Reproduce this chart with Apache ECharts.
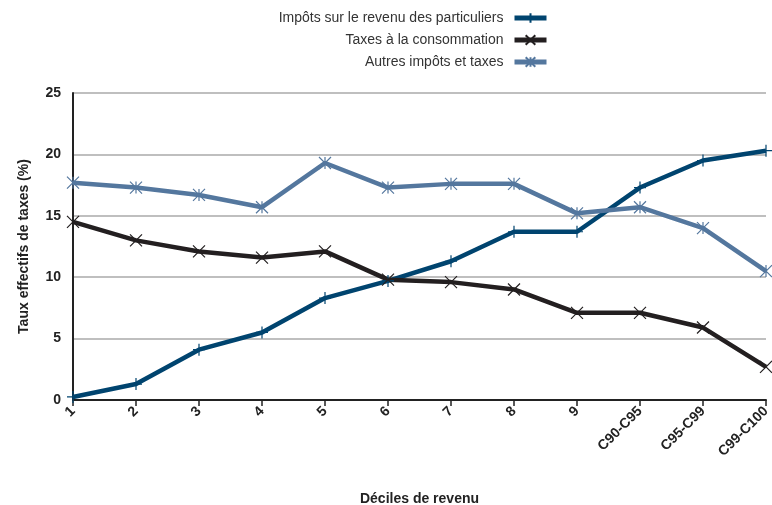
<!DOCTYPE html>
<html>
<head>
<meta charset="utf-8">
<script src="https://cdn.jsdelivr.net/npm/echarts@6/dist/echarts.min.js"></script>
<style>
  html, body { margin: 0; padding: 0; background: #fff; }
  #chart { width: 772px; height: 505px; }
</style>
</head>
<body>
<div id="chart"></div>
<script>
const categories = ['1', '2', '3', '4', '5', '6', '7', '8', '9', 'C90-C95', 'C95-C99', 'C99-C100'];
const impotsRevenu = [0.25, 1.3, 4.1, 5.5, 8.3, 9.7, 11.3, 13.7, 13.7, 17.3, 19.5, 20.3];
const taxesConso = [14.5, 13.0, 12.1, 11.6, 12.1, 9.8, 9.6, 9.0, 7.1, 7.1, 5.9, 2.7];
const autresImpots = [17.7, 17.3, 16.7, 15.7, 19.3, 17.3, 17.6, 17.6, 15.2, 15.7, 14.0, 10.5];

const FONT = '"Liberation Sans", Arial, sans-serif';

const plusSymbol = 'path://M5,0 L5,10 M0,5 L10,5';
const crossSymbol = 'path://M0,0 L10,10 M10,0 L0,10';
const starSymbol = 'path://M0,0 L10,10 M10,0 L0,10 M5,0 L5,10';

const makeSeries = (name, data, color, symbol) => ({
    name: name,
    type: 'line',
    data: data,
    symbol: symbol,
    symbolSize: 12,
    showAllSymbol: true,
    lineStyle: {color: color, width: 4.5},
    itemStyle: {color: color, borderColor: color, borderWidth: 1.2},
    emphasis: {disabled: true},
    z: 3,
});

const chart = echarts.init(document.getElementById('chart'));
chart.setOption({
    animation: false,
    textStyle: {fontFamily: FONT},
    legend: {
        orient: 'vertical',
        right: 218,
        top: 6,
        align: 'right',
        itemWidth: 32,
        itemHeight: 12,
        itemGap: 8,
        lineStyle: {width: 5},
        textStyle: {fontSize: 14, color: '#333', fontFamily: FONT, padding: [0, 6, 0, 0]},
        data: [
            'Impôts sur le revenu des particuliers',
            'Taxes à la consommation',
            'Autres impôts et taxes',
        ],
    },
    grid: {left: 73, right: 6, top: 93, bottom: 105, outerBoundsMode: 'none'},
    xAxis: {
        type: 'category',
        data: categories,
        boundaryGap: false,
        name: 'Déciles de revenu',
        nameLocation: 'middle',
        nameGap: 92,
        nameTextStyle: {fontSize: 14, fontWeight: 'bold', color: '#222', fontFamily: FONT},
        axisLine: {lineStyle: {color: '#222', width: 2}},
        axisTick: {show: true, length: 6, lineStyle: {color: '#222', width: 1.5}, alignWithLabel: true},
        axisLabel: {rotate: 45, fontSize: 14, fontWeight: 'bold', color: '#222', margin: 9, interval: 0},
        splitLine: {show: false},
    },
    yAxis: {
        type: 'value',
        min: 0,
        max: 25,
        interval: 5,
        name: 'Taux effectifs de taxes (%)',
        nameLocation: 'middle',
        nameGap: 42,
        nameTextStyle: {fontSize: 14, fontWeight: 'bold', color: '#222', fontFamily: FONT},
        axisLine: {show: true, lineStyle: {color: '#222', width: 2}},
        axisTick: {show: false},
        axisLabel: {fontSize: 14, fontWeight: 'bold', color: '#222', margin: 12},
        splitLine: {lineStyle: {color: '#aaa', width: 1.5}},
    },
    series: [
        makeSeries('Impôts sur le revenu des particuliers', impotsRevenu, '#00446f', plusSymbol),
        makeSeries('Taxes à la consommation', taxesConso, '#231f20', crossSymbol),
        makeSeries('Autres impôts et taxes', autresImpots, '#54779e', starSymbol),
    ],
});
</script>
</body>
</html>
